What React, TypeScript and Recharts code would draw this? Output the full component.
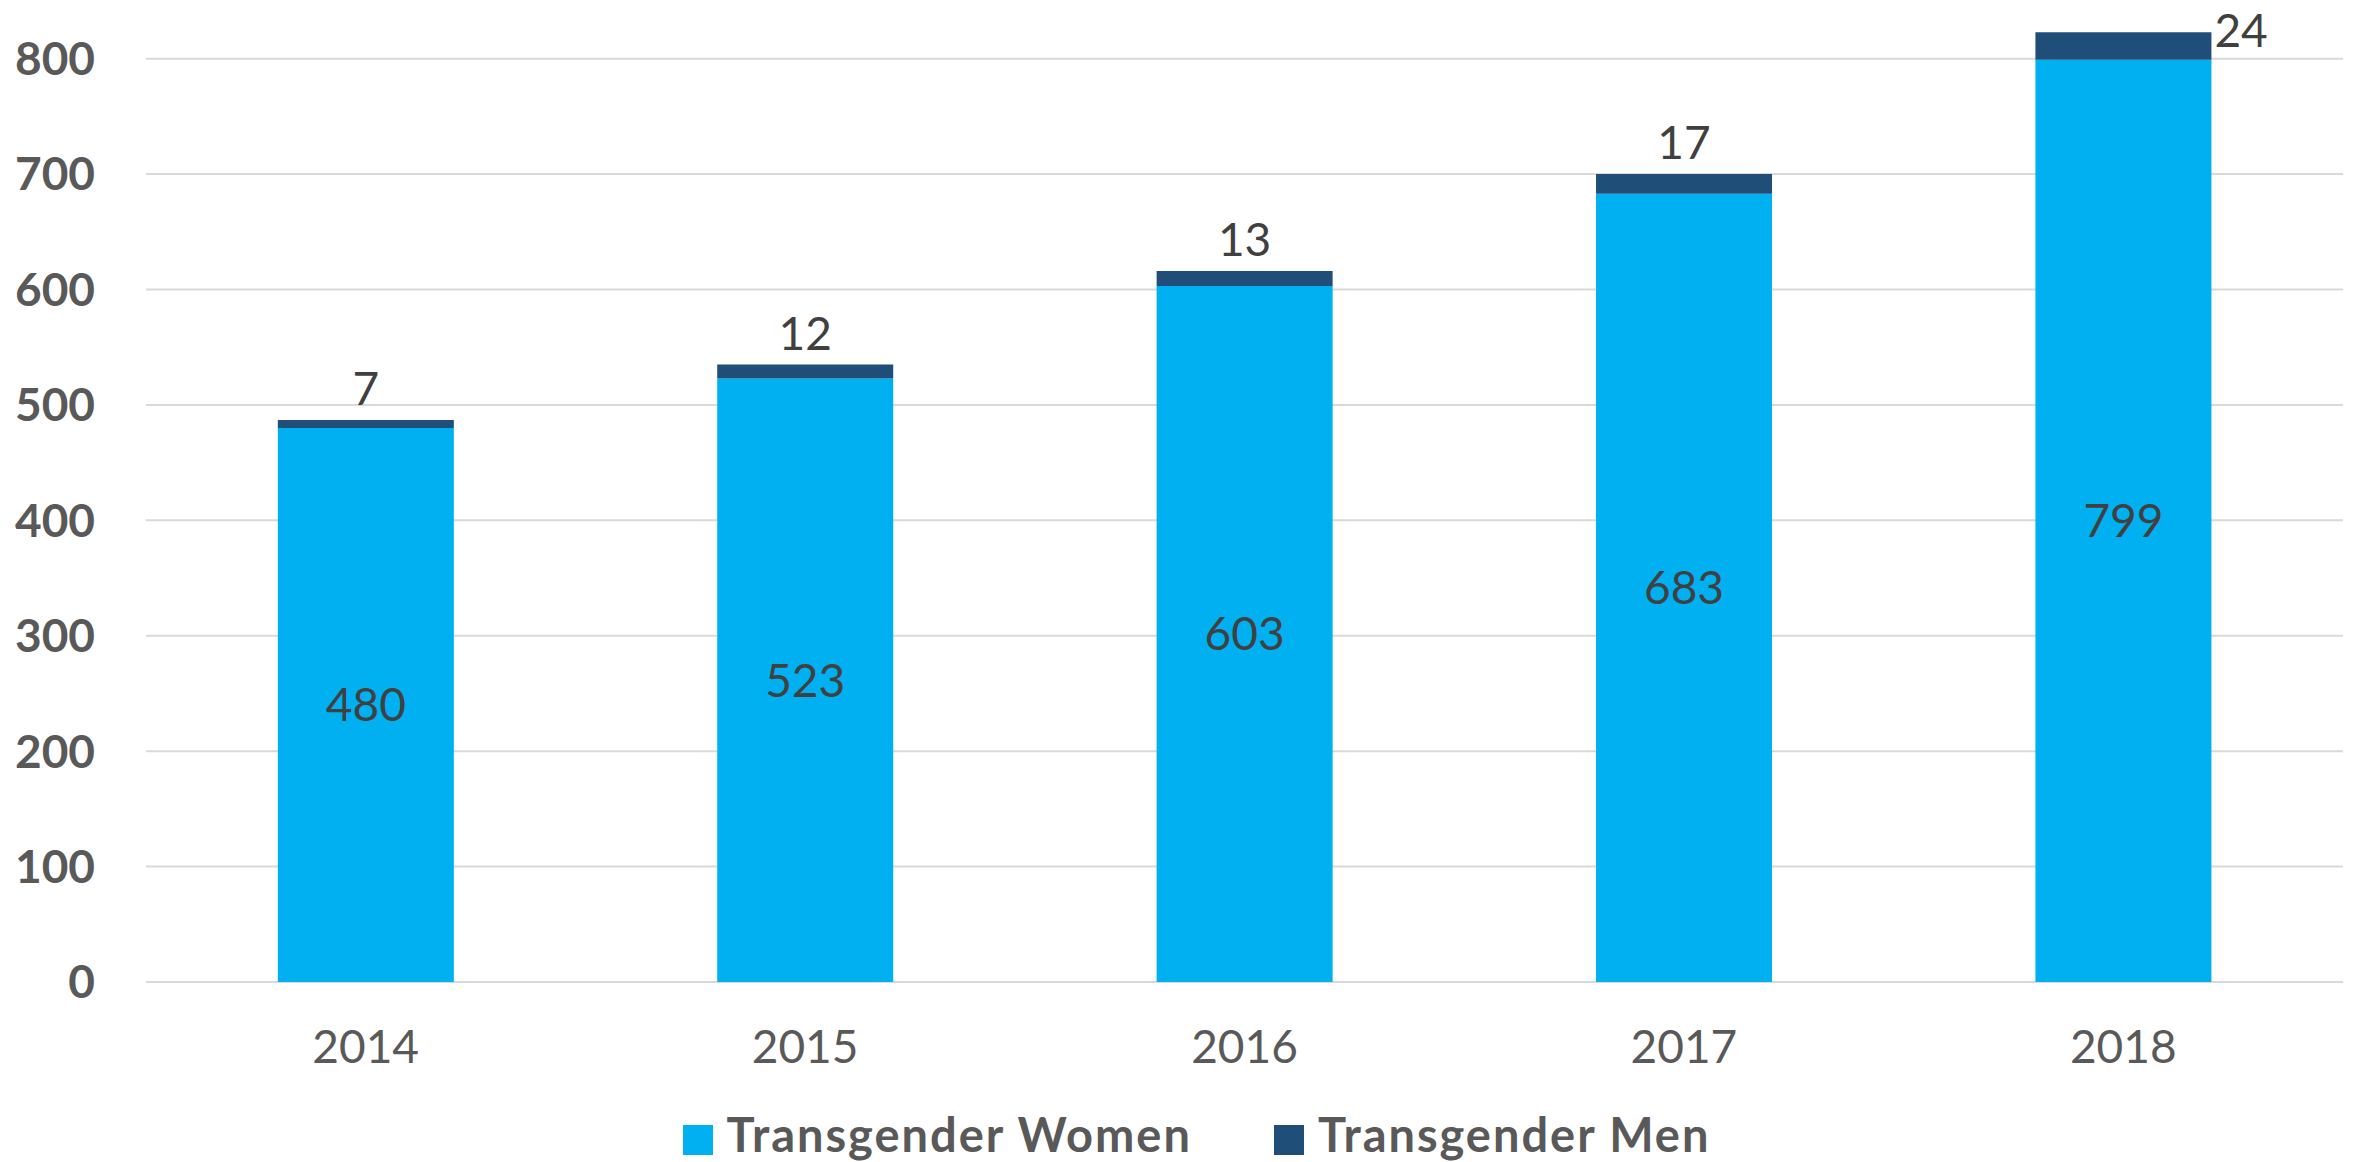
import React from 'react';
import { BarChart, Bar, XAxis, YAxis, CartesianGrid, Legend, LabelList } from 'recharts';

// Values
const years = ['2014', '2015', '2016', '2017', '2018'];
const transWomen = [480, 523, 603, 683, 799];
const transMen = [7, 12, 13, 17, 24];
const yTicks = [0, 100, 200, 300, 400, 500, 600, 700, 800];

const seriesNames = ['Transgender Women', 'Transgender Men'];
const COLORS = ['#00B0F0', '#1F4E79'];

const FONT = 'Lato, "Open Sans", sans-serif';

if (typeof document !== 'undefined') {
  document.body.style.margin = '0';
}

const data = years.map((year, i) => ({
  year,
  women: transWomen[i],
  men: transMen[i],
}));

// label above the top segment; pushed to the right of the bar when it would run off the top
const MenLabel = (props: any) => {
  const { x, y, width, value } = props;
  if (y - 48 < 0) {
    return (
      <text x={x + width + 3} y={y + 15} textAnchor="start" fill="#404040" fontSize={46} fontFamily={FONT}>
        {value}
      </text>
    );
  }
  return (
    <text x={x + width / 2} y={y - 15} textAnchor="middle" fill="#404040" fontSize={46} fontFamily={FONT}>
      {value}
    </text>
  );
};

const renderLegend = () => (
  <div
    style={{
      height: 70,
      display: 'flex',
      justifyContent: 'center',
      alignItems: 'flex-end',
      paddingLeft: 50,
      fontFamily: FONT,
      fontWeight: 700,
      fontSize: 47,
      letterSpacing: 2,
      color: '#595959',
    }}
  >
    {seriesNames.map((name, i) => (
      <div key={`legend-${i}`} style={{ display: 'flex', alignItems: 'center', marginRight: i === 0 ? 82 : 0 }}>
        <span
          style={{
            width: 30,
            height: 30,
            background: COLORS[i],
            display: 'inline-block',
            marginRight: 14,
            position: 'relative',
            top: 6,
          }}
        />
        <span>{name}</span>
      </div>
    ))}
  </div>
);

export default function App() {
  return (
    <div style={{ width: 2359, height: 1162, background: '#fff' }}>
      <BarChart
        width={2359}
        height={1162}
        data={data}
        margin={{ top: 1, right: 16, left: 0, bottom: 0 }}
        barCategoryGap="30%"
      >
        <CartesianGrid vertical={false} horizontalValues={yTicks} stroke="#D9D9D9" strokeWidth={2} />
        <XAxis
          dataKey="year"
          height={110}
          axisLine={false}
          tickLine={false}
          tickSize={0}
          tickMargin={48}
          tick={{ fill: '#595959', fontSize: 46, fontFamily: FONT }}
        />
        <YAxis
          domain={[0, 850]}
          ticks={yTicks}
          width={146}
          axisLine={false}
          tickLine={false}
          tickSize={0}
          tickMargin={51}
          tick={{ fill: '#595959', fontSize: 46, fontWeight: 700, fontFamily: FONT }}
        />
        <Legend verticalAlign="bottom" content={renderLegend} />
        <Bar dataKey="women" name={seriesNames[0]} stackId="a" fill={COLORS[0]} isAnimationActive={false}>
          <LabelList dataKey="women" position="center" fill="#404040" fontSize={46} fontFamily={FONT} />
        </Bar>
        <Bar dataKey="men" name={seriesNames[1]} stackId="a" fill={COLORS[1]} isAnimationActive={false}>
          <LabelList dataKey="men" content={MenLabel} />
        </Bar>
      </BarChart>
    </div>
  );
}
